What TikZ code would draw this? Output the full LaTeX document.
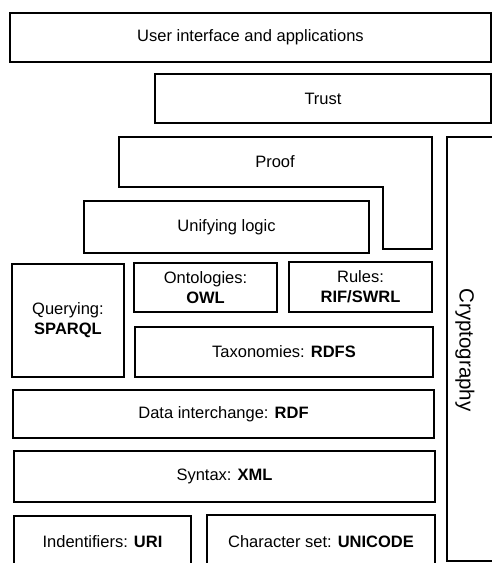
\documentclass[tikz,border=0pt]{standalone}
\usepackage{fontspec}
\setmainfont{Liberation Sans}
\begin{document}
\begin{tikzpicture}[x=1pt,y=-1pt,
  layer/.style={draw=black, line width=1.4pt, fill=white, inner sep=0pt, align=center,
    font=\fontsize{16.5}{20}\selectfont},
  lbl/.style={inner sep=0pt, align=center, font=\fontsize{16.5}{20}\selectfont}]
\useasboundingbox (0,0) rectangle (492,563);
\fill[white] (0,0) rectangle (492,563);
% top layers
\node[layer, minimum width=481pt, minimum height=49pt] (ui) at (250.5,37.5) {User interface and applications};
\node[layer, minimum width=336pt, minimum height=49pt] (trust) at (323,98.5) {Trust};
% proof (L-shape)
\draw[line width=1.4pt, line join=miter] (119,137) -- (432,137) -- (432,249) -- (383,249) -- (383,187) -- (119,187) -- cycle;
\node[lbl] (proof) at (275,162) {Proof};
\node[layer, minimum width=285pt, minimum height=52pt] (logic) at (226.5,227) {Unifying logic};
% middle
\node[layer, minimum width=112pt, minimum height=113pt] (query) at (68,320.5) {Querying:\\\textbf{SPARQL}};
\node[layer, minimum width=143pt, minimum height=49pt] (onto) at (205.5,287.5) {Ontologies:\\\textbf{OWL}};
\node[layer, minimum width=143pt, minimum height=50pt] (rules) at (360.5,287) {Rules:\\\textbf{RIF/SWRL}};
\node[layer, minimum width=298pt, minimum height=50pt] (taxo) at (284,352) {Taxonomies: \textbf{RDFS}};
\node[layer, minimum width=421pt, minimum height=48pt] (rdf) at (223.5,414) {Data interchange: \textbf{RDF}};
\node[layer, minimum width=421pt, minimum height=51pt] (xml) at (224.5,476.5) {Syntax: \textbf{XML}};
\node[layer, minimum width=177pt, minimum height=52pt] (uri) at (102.5,542) {Indentifiers: \textbf{URI}};
\node[layer, minimum width=228pt, minimum height=53pt] (unicode) at (321,541.5) {Character set: \textbf{UNICODE}};
% cryptography
\node[draw=black, line width=1.4pt, minimum width=50pt, minimum height=424pt, inner sep=0pt] (cryptobox) at (472,349) {};
\node[inner sep=0pt, rotate=-90, font=\fontsize{20.5}{24}\selectfont] (crypto) at (465,350) {Cryptography};
\end{tikzpicture}
\end{document}
